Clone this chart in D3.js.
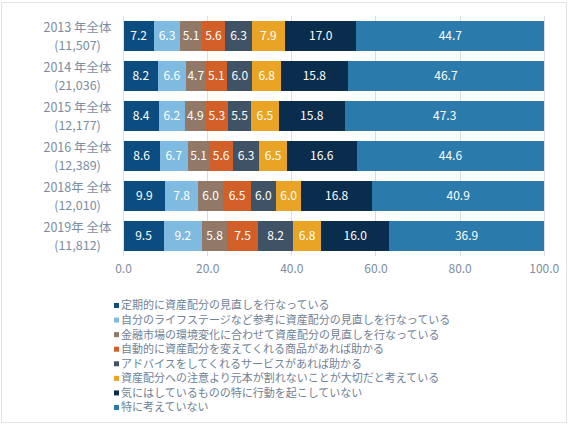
<!DOCTYPE html>
<html><head><meta charset="utf-8">
<script src="https://cdn.jsdelivr.net/npm/d3@7"></script>
<style>body{margin:0;background:#fff}svg{display:block}text{font-family:"Noto Sans CJK JP","Noto Sans",sans-serif}</style>
</head><body><svg id="c" width="574" height="424"></svg>
<script>
const yearLabels = ["2013 年全体","2014 年全体","2015 年全体","2016 年全体","2018年 全体","2019年 全体"];
const sampleLabels = ["(11,507)","(21,036)","(12,177)","(12,389)","(12,010)","(11,812)"];
const seriesNames = [
 "定期的に資産配分の見直しを行なっている",
 "自分のライフステージなど参考に資産配分の見直しを行なっている",
 "金融市場の環境変化に合わせて資産配分の見直しを行なっている",
 "自動的に資産配分を変えてくれる商品があれば助かる",
 "アドバイスをしてくれるサービスがあれば助かる",
 "資産配分への注意より元本が割れないことが大切だと考えている",
 "気にはしているものの特に行動を起こしていない",
 "特に考えていない"];
const colors = ["#0b4d80","#7fbbe1","#927866","#d35f28","#405366","#e9a425","#0a2d4e","#2a7aab"];
const s1 = [7.2,8.2,8.4,8.6,9.9,9.5];
const s2 = [6.3,6.6,6.2,6.7,7.8,9.2];
const s3 = [5.1,4.7,4.9,5.1,6.0,5.8];
const s4 = [5.6,5.1,5.3,5.6,6.5,7.5];
const s5 = [6.3,6.0,5.5,6.3,6.0,8.2];
const s6 = [7.9,6.8,6.5,6.5,6.0,6.8];
const s7 = [17.0,15.8,15.8,16.6,16.8,16.0];
const s8 = [44.7,46.7,47.3,44.6,40.9,36.9];
const xTicks = [0,20,40,60,80,100];

const series = [s1,s2,s3,s4,s5,s6,s7,s8];
const rows = yearLabels.map((y,i)=>{const o={key:i};series.forEach((s,j)=>o["s"+j]=s[i]);return o;});
const keys = series.map((s,j)=>"s"+j);
const stacked = d3.stack().keys(keys).offset(d3.stackOffsetExpand)(rows);

const svg = d3.select("#c");
svg.append("rect").attr("x",1.5).attr("y",2.5).attr("width",565).attr("height",420)
  .attr("fill","#fff").attr("stroke","#dfe4ea");

const x = d3.scaleLinear().domain([0,100]).range([123.5,544.3]);
const y = d3.scaleBand().domain(d3.range(6)).range([16,256]).paddingInner(0.25).paddingOuter(0.125);

// grid
svg.append("g").selectAll("line").data(xTicks).join("line")
  .attr("x1",d=>x(d)).attr("x2",d=>x(d)).attr("y1",16).attr("y2",256)
  .attr("stroke","#d9dee6").attr("stroke-width",1).attr("shape-rendering","crispEdges");

// bars
const g = svg.append("g");
stacked.forEach((layer,j)=>{
  g.selectAll(null).data(layer).join("rect")
   .attr("x",d=>x(d[0]*100)).attr("width",d=>x(d[1]*100)-x(d[0]*100))
   .attr("y",(d,i)=>y(i)).attr("height",y.bandwidth())
   .attr("fill",colors[j]).attr("shape-rendering","crispEdges");
  g.selectAll(null).data(layer).join("text")
   .attr("x",d=>(x(d[0]*100)+x(d[1]*100))/2).attr("y",(d,i)=>y(i)+y.bandwidth()/2)
   .attr("dy","0.36em").attr("text-anchor","middle").attr("fill","#fff")
   .attr("font-size","12px").text((d,i)=>series[j][i].toFixed(1));
});

// x axis labels
svg.append("g").selectAll("text").data(xTicks).join("text")
  .attr("x",d=>x(d)).attr("y",269).attr("dy","0.36em").attr("text-anchor","middle")
  .attr("fill","#7b8da1").attr("font-size","12px").text(d=>d.toFixed(1));

// y labels
const yl = svg.append("g");
yl.selectAll(null).data(yearLabels).join("text")
  .attr("x",77.5).attr("y",(d,i)=>y(i)+y.bandwidth()/2-8.5).attr("dy","0.36em")
  .attr("text-anchor","middle").attr("fill","#7b8da1").attr("font-size","12.5px").text(d=>d);
yl.selectAll(null).data(sampleLabels).join("text")
  .attr("x",77.5).attr("y",(d,i)=>y(i)+y.bandwidth()/2+9.5).attr("dy","0.36em")
  .attr("text-anchor","middle").attr("fill","#7b8da1").attr("font-size","12.5px").text(d=>d);

// legend
const lg = svg.append("g");
const ly = d3.scaleLinear().domain([0,7]).range([305.5,407.5]);
seriesNames.forEach((n,j)=>{
  lg.append("rect").attr("x",114).attr("y",ly(j)-2.5).attr("width",5).attr("height",5).attr("fill",colors[j]);
  lg.append("text").attr("x",121).attr("y",ly(j)).attr("dy","0.36em")
    .attr("fill","#6f8296").attr("font-size","11px").text(n);
});
</script></body></html>
